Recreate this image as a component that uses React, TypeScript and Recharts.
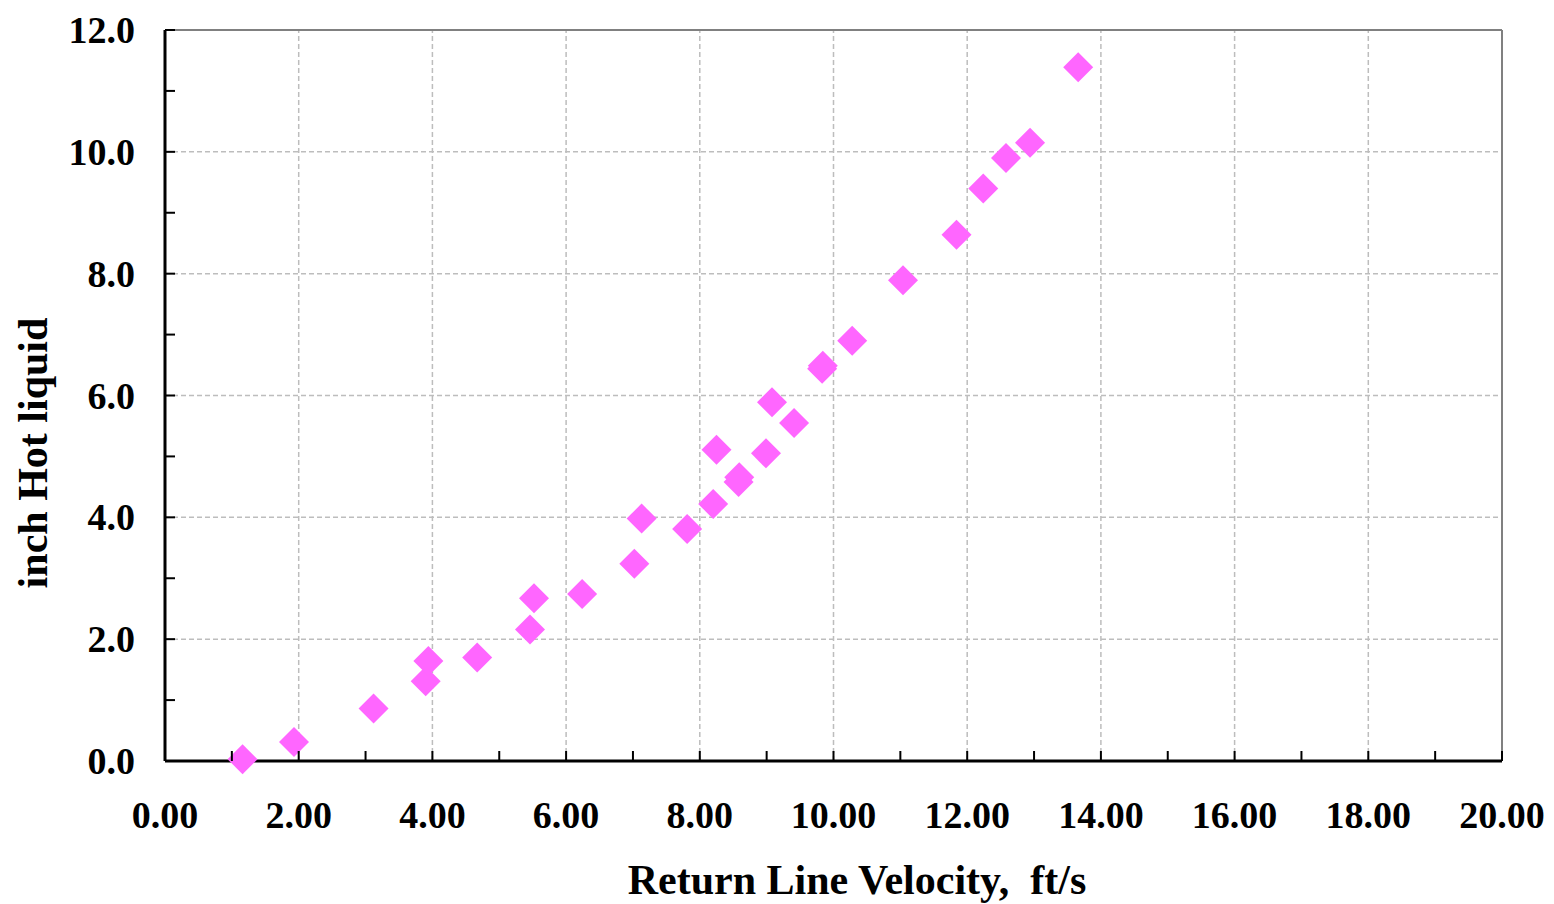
import React from 'react';
import { ScatterChart, Scatter, XAxis, YAxis, ReferenceLine, Label } from 'recharts';

// Return line velocity (ft/s) vs. inch hot liquid
const velocity = [
  1.16, 1.93, 3.12, 3.90, 3.94, 4.67, 5.46, 5.52, 6.24, 7.02, 7.13, 7.81, 8.20, 8.25,
  8.58, 8.59, 8.99, 9.08, 9.41, 9.83, 9.84, 10.28, 11.04, 11.84, 12.24, 12.58, 12.94, 13.66,
];
const hotLiquid = [
  0.03, 0.31, 0.86, 1.31, 1.64, 1.70, 2.16, 2.67, 2.74, 3.24, 3.98, 3.81, 4.22, 5.11,
  4.58, 4.66, 5.05, 5.89, 5.55, 6.44, 6.49, 6.90, 7.89, 8.64, 9.40, 9.90, 10.15, 11.39,
];

const xTicks = [0, 1, 2, 3, 4, 5, 6, 7, 8, 9, 10, 11, 12, 13, 14, 15, 16, 17, 18, 19, 20];
const yTicks = [0, 1, 2, 3, 4, 5, 6, 7, 8, 9, 10, 11, 12];
const xGrid = [2, 4, 6, 8, 10, 12, 14, 16, 18];
const yGrid = [2, 4, 6, 8, 10];

const points = velocity.map((v, i) => ({ x: v, y: hotLiquid[i] }));

const FONT = '"Liberation Serif", "Times New Roman", serif';
const MARKER = '#ff66ff';

const Diamond = (props: any) => {
  const { cx, cy } = props;
  const r = 15;
  return (
    <polygon
      points={`${cx},${cy - r} ${cx + r},${cy} ${cx},${cy + r} ${cx - r},${cy}`}
      fill={MARKER}
    />
  );
};

const XTick = (props: any) => {
  const { x, y, payload } = props;
  const v = payload.value;
  return (
    <g>
      <line x1={x} y1={y} x2={x} y2={y - 10} stroke="#000" strokeWidth={2} />
      {v % 2 === 0 && (
        <text x={x} y={y + 67} textAnchor="middle" fontFamily={FONT} fontWeight="bold" fontSize={38} fill="#000">
          {v.toFixed(2)}
        </text>
      )}
    </g>
  );
};

const YTick = (props: any) => {
  const { x, y, payload } = props;
  const v = payload.value;
  return (
    <g>
      <line x1={x} y1={y} x2={x + 10} y2={y} stroke="#000" strokeWidth={2} />
      {v % 2 === 0 && (
        <text x={x - 30} y={y + 13} textAnchor="end" fontFamily={FONT} fontWeight="bold" fontSize={38} fill="#000">
          {v.toFixed(1)}
        </text>
      )}
    </g>
  );
};

export default function App() {
  return (
    <div style={{ position: 'absolute', left: 0, top: 0, background: '#fff' }}>
      <ScatterChart width={1554} height={904} margin={{ top: 30, right: 52, bottom: 0, left: 0 }}>
        <XAxis
          type="number"
          dataKey="x"
          domain={[0, 20]}
          ticks={xTicks}
          interval={0}
          height={143}
          tickSize={0}
          tickMargin={0}
          tickLine={false}
          tick={<XTick />}
          axisLine={{ stroke: '#000', strokeWidth: 3 }}
        >
          <Label
            content={() => (
              <text
                x={857}
                y={894}
                textAnchor="middle"
                fontFamily={FONT}
                fontWeight="bold"
                fontSize={42}
                fill="#000"
                style={{ whiteSpace: 'pre' }}
              >
                {'Return Line Velocity,  ft/s'}
              </text>
            )}
          />
        </XAxis>
        <YAxis
          type="number"
          dataKey="y"
          domain={[0, 12]}
          ticks={yTicks}
          interval={0}
          width={165}
          tickSize={0}
          tickMargin={0}
          tickLine={false}
          tick={<YTick />}
          axisLine={{ stroke: '#000', strokeWidth: 3 }}
        >
          <Label
            content={() => (
              <text
                x={0}
                y={0}
                transform="translate(47, 453) rotate(-90)"
                textAnchor="middle"
                fontFamily={FONT}
                fontWeight="bold"
                fontSize={42}
                fill="#000"
              >
                inch Hot liquid
              </text>
            )}
          />
        </YAxis>
        {xGrid.map((g) => (
          <ReferenceLine key={`gx-${g}`} x={g} stroke="#bdbdbd" strokeWidth={1.5} strokeDasharray="5 3" />
        ))}
        {yGrid.map((g) => (
          <ReferenceLine key={`gy-${g}`} y={g} stroke="#bdbdbd" strokeWidth={1.5} strokeDasharray="5 3" />
        ))}
        <ReferenceLine y={12} stroke="#808080" strokeWidth={2} />
        <ReferenceLine x={20} stroke="#808080" strokeWidth={2} />
        <Scatter data={points} shape={<Diamond />} isAnimationActive={false} />
      </ScatterChart>
    </div>
  );
}
